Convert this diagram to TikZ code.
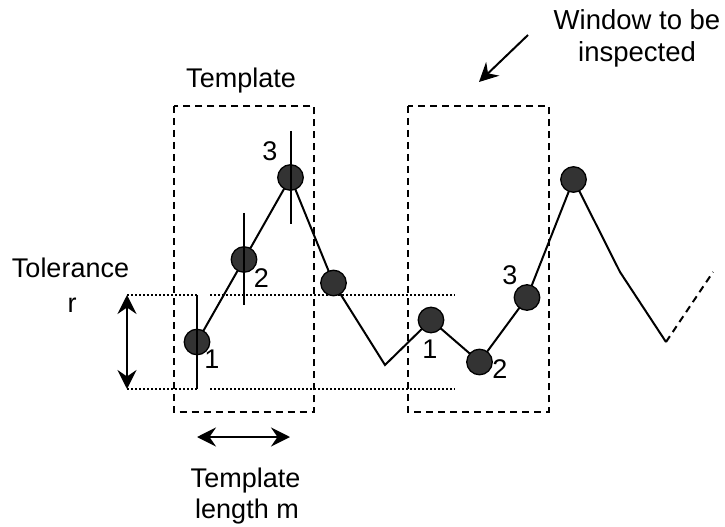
\documentclass[tikz,border=0pt]{standalone}
\usepackage{fontspec}
\setmainfont{Liberation Sans}
\usetikzlibrary{arrows.meta}
\begin{document}
\begin{tikzpicture}[x=1bp,y=-1bp,
  lbl/.style={font=\fontsize{27bp}{32bp}\selectfont, inner sep=0pt, anchor=base},
  dot/.style={circle, draw=black, fill=black!80, line width=1.3bp, minimum size=25.5bp, inner sep=0pt},
  wave/.style={line width=2bp, line join=miter},
  tol/.style={line width=2bp},
  winbox/.style={draw=black, line width=2bp, dash pattern=on 7bp off 5bp},
  dotline/.style={line width=2bp, dash pattern=on 2bp off 2bp},
  dbl/.style={line width=2bp, {Stealth[length=19bp,width=19bp,inset=6.5bp]}-{Stealth[length=19bp,width=19bp,inset=6.5bp]}},
  sgl/.style={line width=2bp, -{Stealth[length=19bp,width=19bp,inset=6.5bp]}}
]
\useasboundingbox (0,0) rectangle (725,527);

% boxes
\draw[winbox] (173.5,106) rectangle (314,412);
\draw[winbox] (408,106) rectangle (548.5,412);

% tolerance band
\coordinate (tl) at (127,295);
\coordinate (bl) at (127,389);
\coordinate (tm) at (197,295);
\coordinate (bm) at (197,389);
\coordinate (tr0) at (210,295);
\coordinate (tr) at (455,295);
\coordinate (br0) at (210,389);
\coordinate (br) at (455,389);
\draw[dotline] (tl) -- (tm);
\draw[dotline] (tr0) -- (tr);
\draw[dotline] (bl) -- (bm);
\draw[dotline] (br0) -- (br);
\draw[dbl] (tl) -- (bl);

% tolerance sticks
\coordinate (s1a) at (197,295); \coordinate (s1b) at (197,389);
\coordinate (s2a) at (244,213); \coordinate (s2b) at (244,305);
\coordinate (s3a) at (290.5,131); \coordinate (s3b) at (290.5,224);

% series points
\coordinate (p1) at (197,342);
\coordinate (p2) at (244,259.5);
\coordinate (p3) at (290.5,177.5);
\coordinate (p4) at (333.5,283);
\coordinate (v1) at (385,365);
\coordinate (p5) at (431,320);
\coordinate (p6) at (479.5,362);
\coordinate (p7) at (527,297.5);
\coordinate (p8) at (573.5,179.5);
\coordinate (v2) at (620,272);
\coordinate (v3) at (666,342);
\coordinate (v4) at (713,272);

\draw[wave] (p1) -- (p2) -- (p3) -- (p4) -- (v1) -- (p5) -- (p6) -- (p7) -- (p8) -- (v2) -- (v3);
\draw[wave, dash pattern=on 7bp off 5bp] (v3) -- (v4);

\node[dot] (c1) at (p1) {};
\node[dot] (c2) at (p2) {};
\node[dot] (c3) at (p3) {};
\node[dot] (c4) at (p4) {};
\node[dot] (c5) at (p5) {};
\node[dot] (c6) at (p6) {};
\node[dot] (c7) at (p7) {};
\node[dot] (c8) at (p8) {};

\draw[tol] (s1a) -- (s1b);
\draw[tol] (s2a) -- (s2b);
\draw[tol] (s3a) -- (s3b);

% number labels
\node[lbl] (n1) at (212,368) {1};
\node[lbl] (n2) at (261.5,287.5) {2};
\node[lbl] (n3) at (270,160.5) {3};
\node[lbl] (m1) at (430,358) {1};
\node[lbl] (m2) at (500,378.5) {2};
\node[lbl] (m3) at (510,284.5) {3};

% texts
\node[lbl] (ttop) at (241,88) {Template};
\node[lbl] (tol1) at (70.5,278) {Tolerance};
\node[lbl] (tol2) at (72,312) {r};
\node[lbl] (tb1) at (245.5,487) {Template};
\node[lbl] (tb2) at (247,518) {length m};
\node[lbl, font=\fontsize{27.5bp}{32bp}\selectfont] (w1) at (637,30) {Window to be};
\node[lbl, font=\fontsize{27.5bp}{32bp}\selectfont] (w2) at (637,62) {inspected};

% arrows
\coordinate (ha) at (197,437);
\coordinate (hb) at (290,437);
\draw[dbl] (ha) -- (hb);
\coordinate (wa) at (528,35);
\coordinate (wb) at (479,82);
\draw[sgl] (wa) -- (wb);
\end{tikzpicture}
\end{document}
